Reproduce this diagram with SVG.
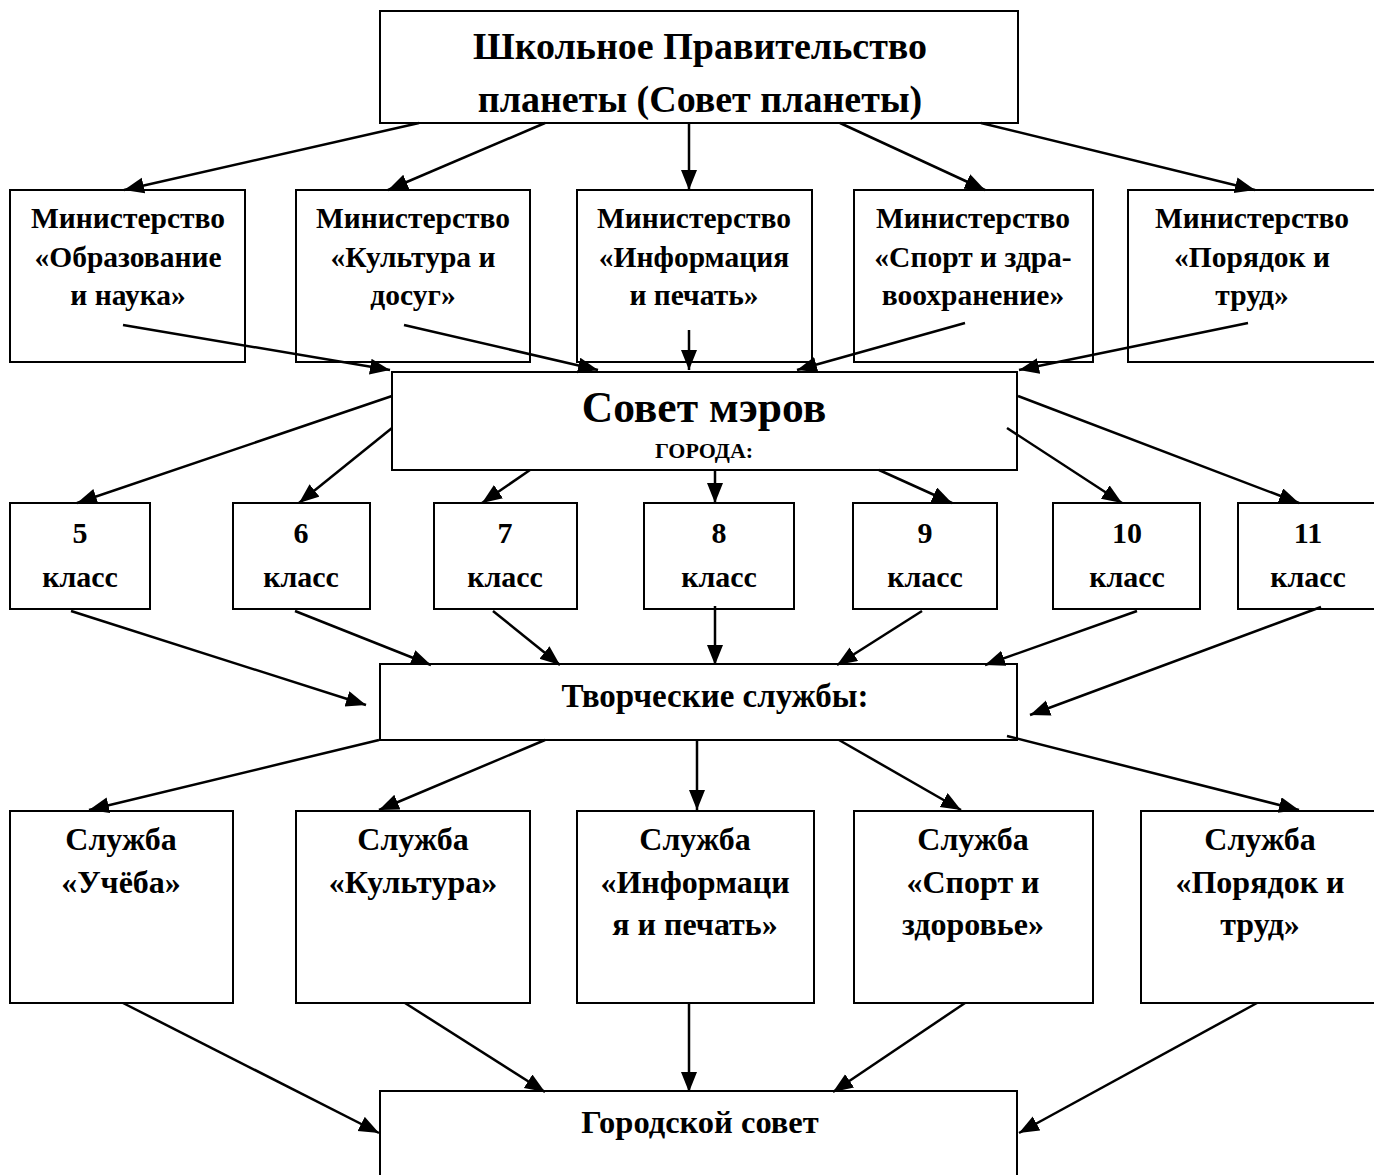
<svg xmlns="http://www.w3.org/2000/svg" width="1374" height="1175" viewBox="0 0 1374 1175">
<style>
.box{fill:#fff;stroke:#000;stroke-width:2}
.t{font-family:"Liberation Serif","Times New Roman",serif;font-weight:bold;fill:#000;text-anchor:middle}
.m{font-size:29.5px}
.c{font-size:30px}
.s{font-size:32px}
.ln{stroke:#000;stroke-width:2.5;fill:none;marker-end:url(#ah)}
</style>
<defs>
<marker id="ah" markerUnits="userSpaceOnUse" markerWidth="22" markerHeight="18" refX="20" refY="8" orient="auto">
<path d="M0,0 L20,8 L0,16 z" fill="#000"/>
</marker>
</defs>
<rect width="1374" height="1175" fill="#fff"/>

<g id="top">
<rect class="box" x="380" y="11" width="638" height="112"/>
<text class="t" x="700" y="59" font-size="38">Школьное Правительство</text>
<text class="t" x="700" y="112" font-size="38">планеты (Совет планеты)</text>
</g>

<g id="min1">
<rect class="box" x="10" y="190" width="235" height="172"/>
<text class="t m" x="128" y="228">Министерство</text>
<text class="t m" x="128" y="267">«Образование</text>
<text class="t m" x="128" y="305">и наука»</text>
</g>
<g id="min2">
<rect class="box" x="296" y="190" width="234" height="172"/>
<text class="t m" x="413" y="228">Министерство</text>
<text class="t m" x="413" y="267">«Культура и</text>
<text class="t m" x="413" y="305">досуг»</text>
</g>
<g id="min3">
<rect class="box" x="577" y="190" width="235" height="172"/>
<text class="t m" x="694" y="228">Министерство</text>
<text class="t m" x="694" y="267">«Информация</text>
<text class="t m" x="694" y="305">и печать»</text>
</g>
<g id="min4">
<rect class="box" x="854" y="190" width="239" height="172"/>
<text class="t m" x="973" y="228">Министерство</text>
<text class="t m" x="973" y="267">«Спорт и здра-</text>
<text class="t m" x="973" y="305">воохранение»</text>
</g>
<g id="min5">
<rect class="box" x="1128" y="190" width="250" height="172"/>
<text class="t m" x="1252" y="228">Министерство</text>
<text class="t m" x="1252" y="267">«Порядок и</text>
<text class="t m" x="1252" y="305">труд»</text>
</g>

<g id="mayors">
<rect class="box" x="392" y="372" width="625" height="98"/>
<text class="t" x="704" y="422" font-size="43.5">Совет мэров</text>
<text class="t" x="704" y="458" font-size="22">ГОРОДА:</text>
</g>

<g id="c5"><rect class="box" x="10" y="503" width="140" height="106"/>
<text class="t c" x="80" y="543">5</text><text class="t c" x="80" y="587">класс</text></g>
<g id="c6"><rect class="box" x="233" y="503" width="137" height="106"/>
<text class="t c" x="301" y="543">6</text><text class="t c" x="301" y="587">класс</text></g>
<g id="c7"><rect class="box" x="434" y="503" width="143" height="106"/>
<text class="t c" x="505" y="543">7</text><text class="t c" x="505" y="587">класс</text></g>
<g id="c8"><rect class="box" x="644" y="503" width="150" height="106"/>
<text class="t c" x="719" y="543">8</text><text class="t c" x="719" y="587">класс</text></g>
<g id="c9"><rect class="box" x="853" y="503" width="144" height="106"/>
<text class="t c" x="925" y="543">9</text><text class="t c" x="925" y="587">класс</text></g>
<g id="c10"><rect class="box" x="1053" y="503" width="147" height="106"/>
<text class="t c" x="1127" y="543">10</text><text class="t c" x="1127" y="587">класс</text></g>
<g id="c11"><rect class="box" x="1238" y="503" width="140" height="106"/>
<text class="t c" x="1308" y="543">11</text><text class="t c" x="1308" y="587">класс</text></g>

<g id="creative">
<rect class="box" x="380" y="664" width="637" height="76"/>
<text class="t" x="715" y="707" font-size="33">Творческие службы:</text>
</g>

<g id="s1"><rect class="box" x="10" y="811" width="223" height="192"/>
<text class="t s" x="121" y="850">Служба</text><text class="t s" x="121" y="893">«Учёба»</text></g>
<g id="s2"><rect class="box" x="296" y="811" width="234" height="192"/>
<text class="t s" x="413" y="850">Служба</text><text class="t s" x="413" y="893">«Культура»</text></g>
<g id="s3"><rect class="box" x="577" y="811" width="237" height="192"/>
<text class="t s" x="695" y="850">Служба</text><text class="t s" x="695" y="893">«Информаци</text><text class="t s" x="695" y="935">я и печать»</text></g>
<g id="s4"><rect class="box" x="854" y="811" width="239" height="192"/>
<text class="t s" x="973" y="850">Служба</text><text class="t s" x="973" y="893">«Спорт и</text><text class="t s" x="973" y="935">здоровье»</text></g>
<g id="s5"><rect class="box" x="1141" y="811" width="238" height="192"/>
<text class="t s" x="1260" y="850">Служба</text><text class="t s" x="1260" y="893">«Порядок и</text><text class="t s" x="1260" y="935">труд»</text></g>

<g id="citycouncil">
<rect class="box" x="380" y="1091" width="637" height="100"/>
<text class="t" x="700" y="1133" font-size="32.5">Городской совет</text>
</g>

<g id="connectors">
<line class="ln" x1="419" y1="123" x2="124" y2="190"/>
<line class="ln" x1="545" y1="123" x2="388" y2="190"/>
<line class="ln" x1="689" y1="123" x2="689" y2="190"/>
<line class="ln" x1="840" y1="123" x2="985" y2="190"/>
<line class="ln" x1="981" y1="123" x2="1255" y2="190"/>
<line class="ln" x1="123" y1="325" x2="390" y2="370"/>
<line class="ln" x1="404" y1="325" x2="598" y2="370"/>
<line class="ln" x1="689" y1="330" x2="689" y2="370"/>
<line class="ln" x1="965" y1="323" x2="797" y2="370"/>
<line class="ln" x1="1248" y1="323" x2="1019" y2="370"/>
<line class="ln" x1="392" y1="396" x2="77" y2="503"/>
<line class="ln" x1="392" y1="428" x2="299" y2="503"/>
<line class="ln" x1="530" y1="470" x2="482" y2="503"/>
<line class="ln" x1="715" y1="470" x2="715" y2="503"/>
<line class="ln" x1="879" y1="470" x2="952" y2="503"/>
<line class="ln" x1="1007" y1="428" x2="1122" y2="503"/>
<line class="ln" x1="1018" y1="396" x2="1299" y2="503"/>
<line class="ln" x1="71" y1="611" x2="366" y2="705"/>
<line class="ln" x1="295" y1="611" x2="431" y2="665"/>
<line class="ln" x1="493" y1="611" x2="560" y2="665"/>
<line class="ln" x1="715" y1="606" x2="715" y2="665"/>
<line class="ln" x1="922" y1="611" x2="837" y2="665"/>
<line class="ln" x1="1137" y1="611" x2="985" y2="665"/>
<line class="ln" x1="1321" y1="607" x2="1030" y2="715"/>
<line class="ln" x1="379" y1="740" x2="89" y2="810"/>
<line class="ln" x1="545" y1="740" x2="379" y2="810"/>
<line class="ln" x1="697" y1="740" x2="697" y2="810"/>
<line class="ln" x1="839" y1="740" x2="961" y2="810"/>
<line class="ln" x1="1007" y1="736" x2="1299" y2="810"/>
<line class="ln" x1="123" y1="1003" x2="379" y2="1133"/>
<line class="ln" x1="405" y1="1003" x2="545" y2="1092"/>
<line class="ln" x1="689" y1="1003" x2="689" y2="1092"/>
<line class="ln" x1="965" y1="1003" x2="833" y2="1092"/>
<line class="ln" x1="1257" y1="1003" x2="1019" y2="1133"/>
</g>
</svg>
